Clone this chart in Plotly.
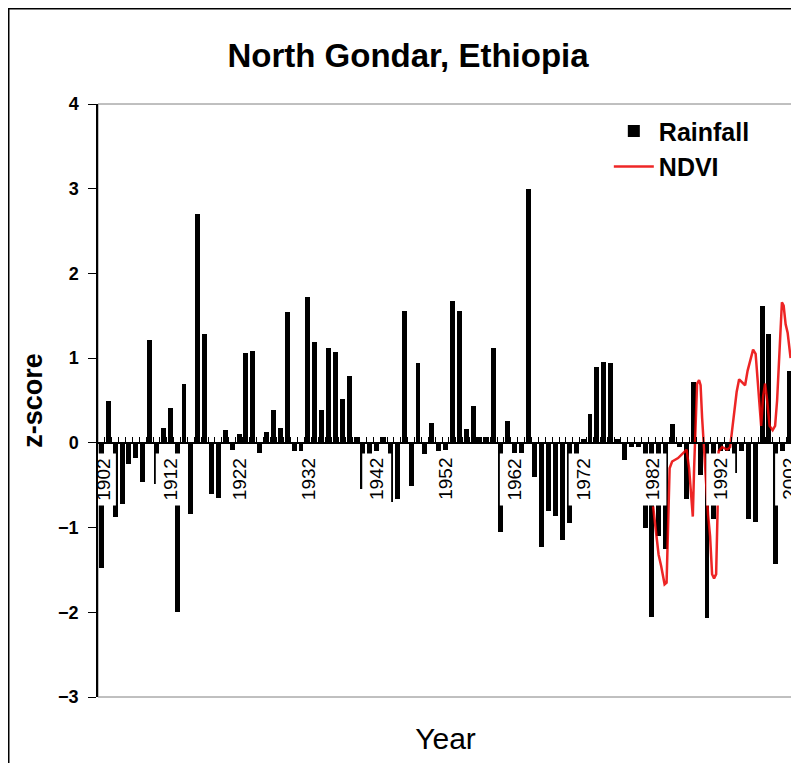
import plotly.graph_objects as go

# ---------------- data ----------------
years = list(range(1902, 2003))
rainfall = [
    -1.48, 0.50, -0.87, -0.72, -0.25, -0.18, -0.46, 1.22, -0.48, 0.18,   # 1902-1911
    0.41, -2.00, 0.70, -0.84, 2.70, 1.29, -0.60, -0.65, 0.15, -0.08,     # 1912-1921
    0.10, 1.06, 1.08, -0.12, 0.13, 0.39, 0.18, 1.54, -0.10, -0.10,       # 1922-1931
    1.72, 1.19, 0.39, 1.12, 1.07, 0.52, 0.79, 0.07, -0.54, -0.15,        # 1932-1941
    -0.10, 0.07, -0.70, -0.66, 1.56, -0.51, 0.94, -0.13, 0.23, -0.10,    # 1942-1951
    -0.08, 1.67, 1.56, 0.16, 0.43, 0.07, 0.07, 1.12, -1.05, 0.26,        # 1952-1961
    -0.12, -0.12, 3.00, -0.40, -1.23, -0.80, -0.86, -1.15, -0.95, -0.73, # 1962-1971
    0.05, 0.34, 0.89, 0.96, 0.94, 0.05, -0.20, -0.05, -0.05, -1.00,      # 1972-1981
    -2.05, -1.10, -1.25, 0.22, -0.05, -0.66, 0.72, -0.38, -2.07, -0.90,  # 1982-1991
    -0.10, -0.10, -0.35, -0.10, -0.90, -0.93, 1.61, 1.28, -1.43, -0.10,  # 1992-2001
    0.85,                                                                # 2002
]

ndvi_time = [
    1982.17, 1982.60, 1982.97, 1983.33, 1983.84, 1984.13, 1984.42, 1984.57,
    1984.93, 1985.80, 1986.53, 1987.04, 1987.40, 1987.69, 1987.94, 1988.13,
    1988.35, 1988.56, 1988.85, 1989.07, 1989.29, 1989.51, 1989.73, 1989.94,
    1990.16, 1990.45, 1990.74, 1991.03, 1991.33, 1991.54, 1991.69, 1992.20,
    1992.92, 1993.36, 1993.65, 1993.94, 1994.31, 1994.67, 1995.10, 1995.54,
    1995.90, 1996.34, 1996.70, 1997.07, 1997.36, 1997.58, 1997.87, 1998.16,
    1998.45, 1998.74, 1999.10, 1999.54, 1999.90, 2000.19, 2000.41, 2000.70,
    2000.89, 2001.14, 2001.43, 2001.72, 2001.94, 2002.15,
]
ndvi = [
    -0.75, -1.05, -1.32, -1.45, -1.67, -1.65, -0.90, -0.30,
    -0.22, -0.18, -0.12, -0.08, -0.30, -0.60, -0.87, -0.30,
    0.35, 0.70, 0.74, 0.68, 0.30, 0.00, -0.35, -0.60,
    -0.85, -1.10, -1.55, -1.60, -1.55, -0.80, -0.10, -0.05,
    -0.08, -0.05, 0.15, 0.40, 0.60, 0.75, 0.72, 0.68,
    0.85, 1.00, 1.10, 1.05, 0.75, 0.45, 0.20, 0.55,
    0.70, 0.50, 0.20, 0.15, 0.20, 0.50, 0.90, 1.40,
    1.66, 1.62, 1.40, 1.30, 1.10, 1.00,
]

label_years = list(range(1902, 2003, 10))
y_ticks = [-3, -2, -1, 0, 1, 2, 3, 4]

FONT = "Arial, 'Liberation Sans', sans-serif"
X_MIN, X_MAX = years[0] - 0.5, years[-1] + 0.5
Y_MIN, Y_MAX = -3, 4

# The page body has an 8 px default margin, so the figure is sized to fit the
# 799x763 window with that offset.
FIG_W, FIG_H = 791, 755
M_L, M_R, M_T, M_B = 90, 6, 96, 66
PLOT_W = FIG_W - M_L - M_R
PLOT_H = FIG_H - M_T - M_B

fig = go.Figure()
fig.add_trace(go.Bar(
    x=years, y=rainfall, name="Rainfall", width=0.72,
    marker=dict(color="black", line=dict(width=0)),
    xaxis="x", yaxis="y",
))
fig.add_trace(go.Scatter(
    x=ndvi_time, y=ndvi, name="NDVI", mode="lines",
    line=dict(color="rgb(235,0,0)", width=2.5), opacity=0.85,
    xaxis="x2", yaxis="y",
))

# white label backgrounds (like the Excel category labels) and the labels
shapes = []
annotations = []
for yr in label_years:
    shapes.append(dict(
        type="rect", xref="x", yref="y", layer="above",
        x0=yr - 2.1, x1=yr + 2.1, y0=-0.74, y1=-0.125,
        fillcolor="white", line=dict(width=0),
    ))
    annotations.append(dict(
        x=yr, y=-0.43, xref="x", yref="y", text=str(yr), showarrow=False,
        textangle=-90, font=dict(family=FONT, size=19, color="black"),
        xanchor="center", yanchor="middle",
        xshift=2 if yr == label_years[0] else 0,
    ))

# plot-area frame (grey) and outer chart border
shapes.append(dict(type="rect", xref="paper", yref="paper", x0=0, x1=1, y0=0, y1=1,
                   line=dict(color="#808080", width=1), layer="below"))
shapes.append(dict(type="rect", xref="paper", yref="paper",
                   x0=(0.75 - M_L) / PLOT_W, x1=1.05,
                   y0=-0.2, y1=(M_T + PLOT_H - 0.75) / PLOT_H,
                   line=dict(color="black", width=1.5), layer="below"))

fig.update_layout(
    width=FIG_W, height=FIG_H,
    margin=dict(l=M_L, r=M_R, t=M_T, b=M_B),
    paper_bgcolor="white", plot_bgcolor="white",
    font=dict(family=FONT, color="black"),
    title=dict(text="<b>North Gondar, Ethiopia</b>", x=400 / FIG_W, xref="container",
               xanchor="center", y=1 - 47 / FIG_H, yref="container", yanchor="middle",
               font=dict(family=FONT, size=33, color="black")),
    showlegend=True,
    legend=dict(x=0.735, y=0.993, xanchor="left", yanchor="top",
                font=dict(family=FONT, size=25, color="black", weight="bold"),
                bgcolor="rgba(0,0,0,0)", itemwidth=40, tracegroupgap=0),
    bargap=0,
    xaxis=dict(
        range=[X_MIN, X_MAX], anchor="free", position=(0 - Y_MIN) / (Y_MAX - Y_MIN),
        showline=True, linecolor="black", linewidth=1.5,
        tickmode="array", tickvals=[y + 0.5 for y in years[:-1]],
        ticks="inside", ticklen=5, tickcolor="black", tickwidth=1,
        showticklabels=False, showgrid=False, zeroline=False, automargin=False,
    ),
    xaxis2=dict(
        range=[X_MIN, X_MAX], overlaying="x", anchor="y", side="bottom",
        showline=False, ticks="", showticklabels=False, showgrid=False, zeroline=False,
        automargin=False,
        title=dict(text="Year", font=dict(family=FONT, size=30, color="black"), standoff=30),
    ),
    yaxis=dict(
        range=[Y_MIN, Y_MAX], tickmode="array", tickvals=y_ticks,
        ticks="outside", ticklen=8, tickcolor="black", tickwidth=1,
        showline=True, linecolor="black", linewidth=1.5,
        showgrid=False, zeroline=False, automargin=False,
        tickfont=dict(family=FONT, size=18, color="black", weight="bold"),
        ticklabelstandoff=6,
        title=dict(text="<b>z-score</b>", font=dict(family=FONT, size=27, color="black"),
                   standoff=8),
    ),
    shapes=shapes,
    annotations=annotations,
)

fig.write_html("out.html")
